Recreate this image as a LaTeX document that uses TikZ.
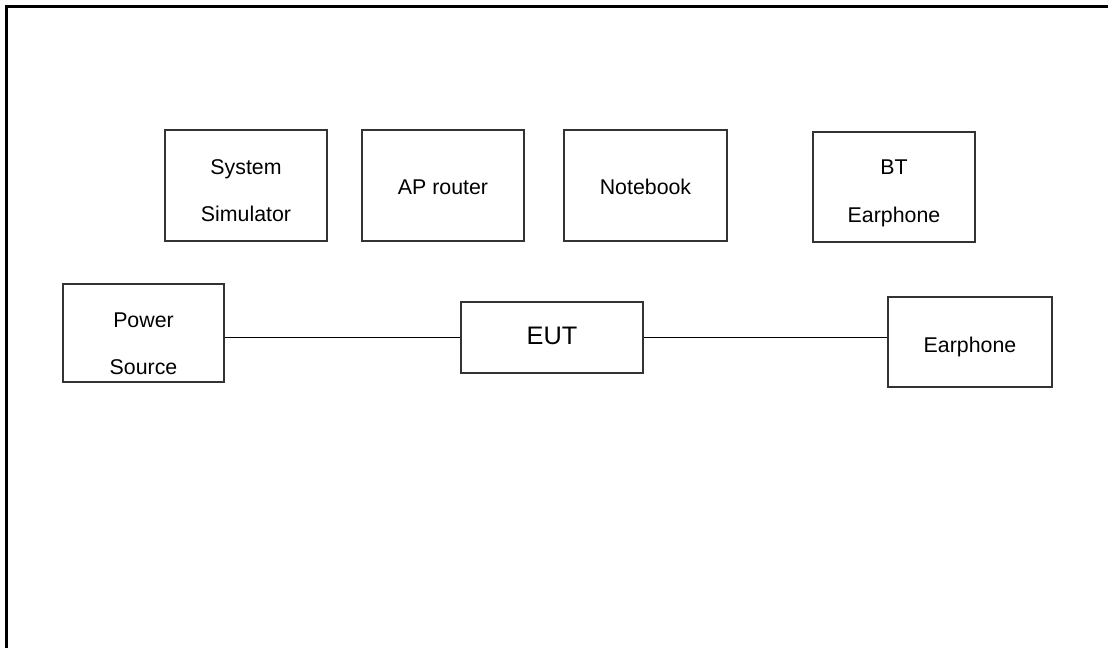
\documentclass[tikz,border=0pt]{standalone}
\usepackage{fontspec}
\setmainfont{Liberation Sans}
\begin{document}
\begin{tikzpicture}[x=0.75pt,y=-0.75pt,
  box/.style={draw=black!80,line width=0.8pt,inner sep=0pt},
  txt/.style={anchor=base,inner sep=0pt,font=\fontsize{16}{19}\selectfont},
  big/.style={anchor=base,inner sep=0pt,font=\fontsize{19}{22}\selectfont},
  conn/.style={draw=black,line width=1.2pt},
  frame/.style={draw=black,line width=1.6pt}]
\useasboundingbox (0,0) rectangle (1108,648);
\draw[frame] (1108,6.5) -- (6.5,6.5) -- (6.5,648);
% top row
\node[box,minimum width=162*0.75pt,minimum height=111*0.75pt] (sim) at (246,185.5) {};
\node[box,minimum width=162*0.75pt,minimum height=111*0.75pt] (ap) at (443,185.5) {};
\node[box,minimum width=163*0.75pt,minimum height=111*0.75pt] (nb) at (645.5,185.5) {};
\node[box,minimum width=162*0.75pt,minimum height=110*0.75pt] (bt) at (894,187) {};
\node[txt] (simA) at (246,175) {System};
\node[txt] (simB) at (246,222) {Simulator};
\node[txt] (apT) at (443,195) {AP router};
\node[txt] (nbT) at (645.5,195) {Notebook};
\node[txt] (btA) at (894,175) {BT};
\node[txt] (btB) at (894,223) {Earphone};
% middle row
\node[box,minimum width=161*0.75pt,minimum height=98*0.75pt] (ps) at (143.5,333) {};
\node[box,minimum width=182*0.75pt,minimum height=71*0.75pt] (eut) at (552,337.5) {};
\node[box,minimum width=164*0.75pt,minimum height=90*0.75pt] (ear) at (970,342) {};
\node[txt] (psA) at (143.5,328) {Power};
\node[txt] (psB) at (143.5,375) {Source};
\node[big] (eutT) at (552,345) {EUT};
\node[txt] (earT) at (970,353) {Earphone};
% connectors
\draw[conn] (eut.west) -- (eut.west -| ps.east);
\draw[conn] (eut.east) -- (eut.east -| ear.west);
\end{tikzpicture}
\end{document}
